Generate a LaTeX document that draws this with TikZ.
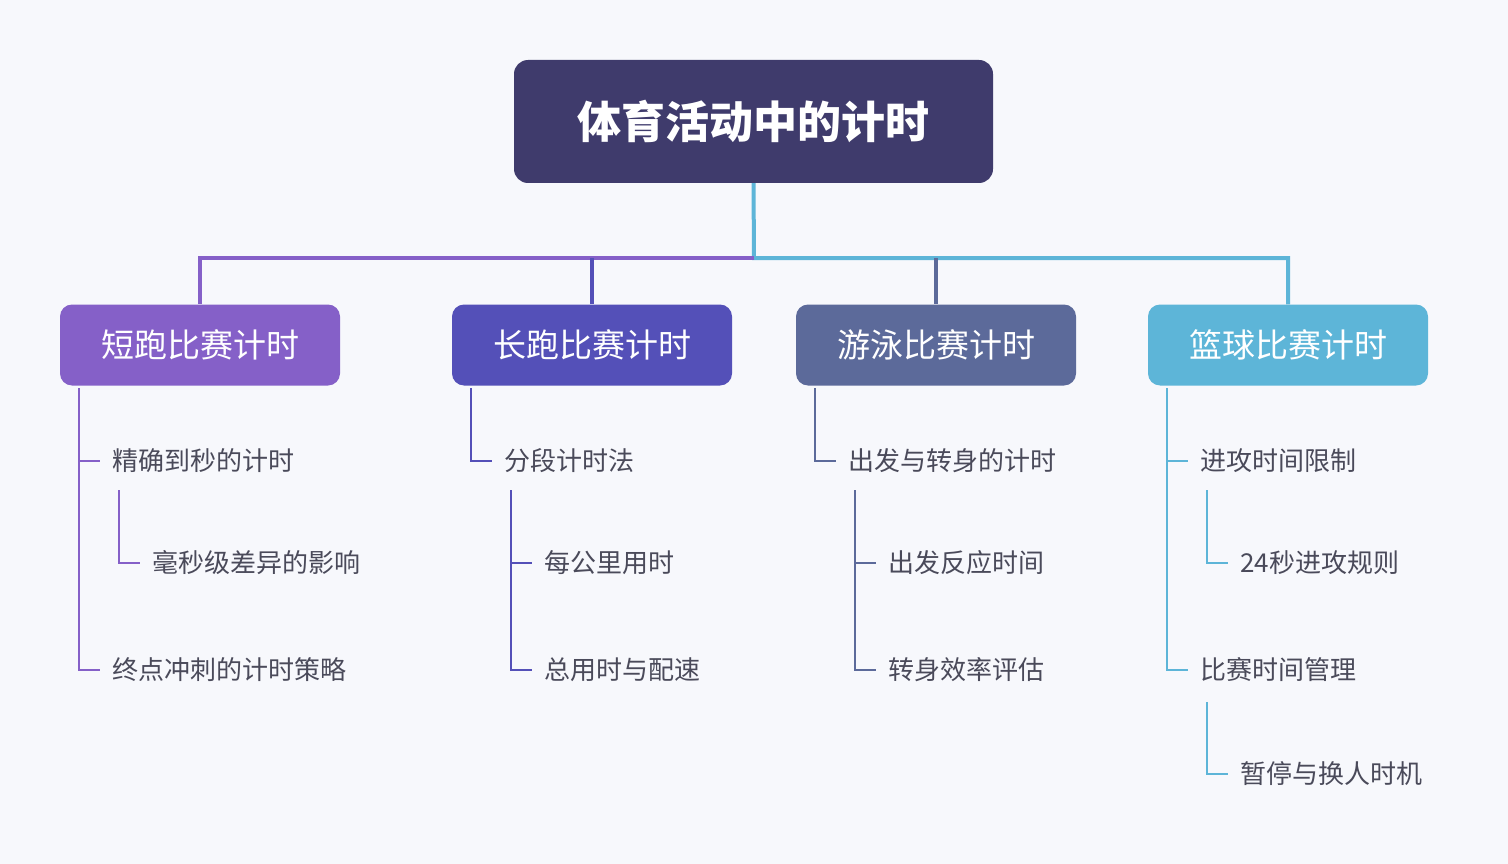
\documentclass[tikz,border=0pt]{standalone}
\usepackage{fontspec}
\setmainfont{Noto Sans CJK SC}
\newfontfamily\cjkb{Noto Sans CJK SC Bold}
\begin{document}
\begin{tikzpicture}[x=1pt,y=-1pt]
\definecolor{bg}{HTML}{F7F8FC}
\definecolor{rootc}{HTML}{3F3B6C}
\definecolor{ca}{HTML}{8560C8}
\definecolor{cb}{HTML}{5450B8}
\definecolor{cc}{HTML}{5C6A9A}
\definecolor{cd}{HTML}{5DB5D8}
\definecolor{txt}{HTML}{4A4A5A}
\fill[bg] (0,0) rectangle (1508,864);
\useasboundingbox (0,0) rectangle (1508,864);
\tikzset{
 rootbox/.style={fill=rootc,rounded corners=14pt,minimum width=479pt,minimum height=123pt,text=white,font=\fontsize{44}{50}\selectfont\bfseries},
 catbox/.style={fill=#1,rounded corners=12pt,minimum width=280pt,minimum height=81pt,text=white,font=\fontsize{33}{38}\selectfont},
 leaf/.style={anchor=west,text=txt,font=\fontsize{26}{30}\selectfont,inner sep=0pt},
 tl/.style={draw=#1,line width=1.5pt},
 trunk/.style={line width=4pt}
}
\node[rootbox] (root) at (753.5,121.5) {体育活动中的计时};
\node[catbox=ca] (a) at (200,345) {短跑比赛计时};
\node[catbox=cb] (b) at (592,345) {长跑比赛计时};
\node[catbox=cc] (c) at (936,345) {游泳比赛计时};
\node[catbox=cd] (d) at (1288,345) {篮球比赛计时};
\coordinate (j) at (754,258);
\draw[trunk,draw=cd] (root.south) -- (j) -- (1288,258) -- (d.north);
\draw[trunk,draw=ca] (j) -- (200,258) -- (a.north);
\draw[trunk,draw=cb] (592,258) -- (b.north);
\draw[trunk,draw=cc] (936,258) -- (c.north);
% branch a
\node[leaf] (a1) at (112,461) {精确到秒的计时};
\node[leaf] (a11) at (152,563) {毫秒级差异的影响};
\node[leaf] (a2) at (112,670) {终点冲刺的计时策略};
\draw[tl=ca] (79,388) -- (79,670) -- (a2.west-|100,0);
\draw[tl=ca] (79,461) -- (100,461);
\draw[tl=ca] (119,490) -- (119,563) -- (140,563);
% branch b
\node[leaf] (b1) at (504,461) {分段计时法};
\node[leaf] (b11) at (544,563) {每公里用时};
\node[leaf] (b12) at (544,670) {总用时与配速};
\draw[tl=cb] (471,388) -- (471,461) -- (492,461);
\draw[tl=cb] (511,490) -- (511,670) -- (532,670);
\draw[tl=cb] (511,563) -- (532,563);
% branch c
\node[leaf] (c1) at (848,461) {出发与转身的计时};
\node[leaf] (c11) at (888,563) {出发反应时间};
\node[leaf] (c12) at (888,670) {转身效率评估};
\draw[tl=cc] (815,388) -- (815,461) -- (836,461);
\draw[tl=cc] (855,490) -- (855,670) -- (876,670);
\draw[tl=cc] (855,563) -- (876,563);
% branch d
\node[leaf] (d1) at (1200,461) {进攻时间限制};
\node[leaf] (d11) at (1240,563) {24秒进攻规则};
\node[leaf] (d2) at (1200,670) {比赛时间管理};
\node[leaf] (d21) at (1240,774) {暂停与换人时机};
\draw[tl=cd] (1167,388) -- (1167,670) -- (1188,670);
\draw[tl=cd] (1167,461) -- (1188,461);
\draw[tl=cd] (1207,490) -- (1207,563) -- (1228,563);
\draw[tl=cd] (1207,702) -- (1207,774) -- (1228,774);
\end{tikzpicture}
\end{document}
